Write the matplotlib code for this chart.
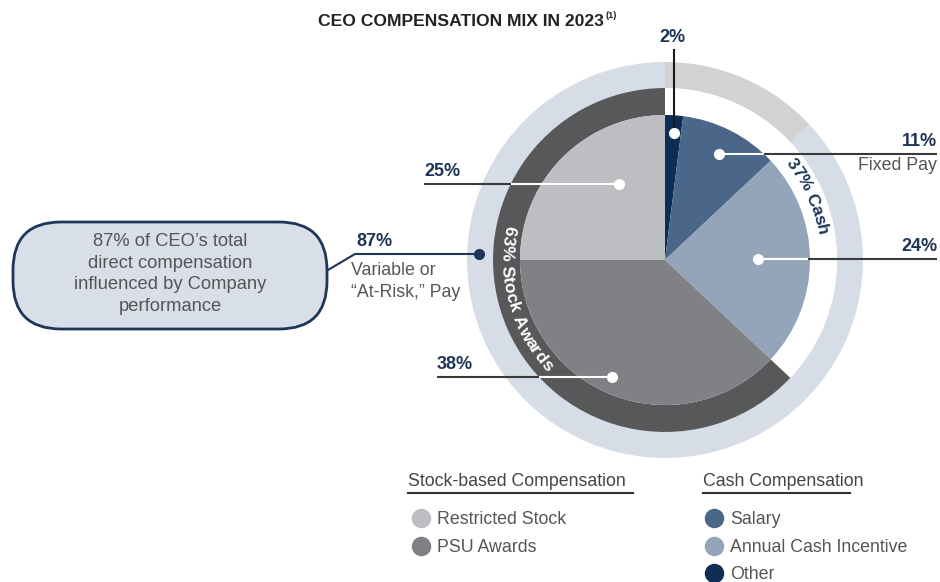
import numpy as np
from matplotlib import pyplot as plt
from matplotlib.patches import FancyBboxPatch
from matplotlib.font_manager import FontProperties
from matplotlib.textpath import TextToPath

# data (clockwise from 12 o'clock)
slice_names = ["Other", "Salary", "Annual Cash Incentive", "PSU Awards", "Restricted Stock"]
slice_values = [2, 11, 24, 38, 25]
slice_labels = ["2%", "11%", "24%", "38%", "25%"]
stock_names = ["Restricted Stock", "PSU Awards"]
cash_names = ["Salary", "Annual Cash Incentive", "Other"]

colors = {
    "Other": "#0e2d55",
    "Salary": "#4a6789",
    "Annual Cash Incentive": "#95a5b9",
    "PSU Awards": "#808185",
    "Restricted Stock": "#bdbec2",
}
NAVY = "#1d3557"
GRAY_TXT = "#555555"
DARK_RING = "#58585a"
OUTER_VAR = "#d6dde6"
OUTER_FIX = "#d2d2d4"

W, H = 940, 582
BOLD = ["Liberation Sans", "DejaVu Sans"]
SANS = ["Liberation Sans", "DejaVu Sans"]
FS = 12.8


def Y(y):
    return H - y


cash_total = sum(slice_values[:3])
stock_total = sum(slice_values[3:])
fixed_total = sum(slice_values[:2])
var_total = sum(slice_values[2:])

fig = plt.figure(figsize=(W / 100, H / 100), dpi=100)
ax = fig.add_axes([0, 0, 1, 1])

cx, cy = 665, Y(260)
R_PIE, R_RING, R_OUT = 145, 172, 198

# outer ring: variable vs fixed
ax.pie([var_total, fixed_total], colors=[OUTER_VAR, OUTER_FIX], startangle=90,
       counterclock=True, radius=R_OUT, center=(cx, cy),
       wedgeprops=dict(width=R_OUT - R_RING, linewidth=0))
# middle ring: stock vs cash
ax.pie([stock_total, cash_total], colors=[DARK_RING, "white"], startangle=90,
       counterclock=True, radius=R_RING, center=(cx, cy),
       wedgeprops=dict(width=R_RING - R_PIE, linewidth=0))
# main pie
ax.pie(slice_values, colors=[colors[n] for n in slice_names], startangle=90,
       counterclock=False, radius=R_PIE, center=(cx, cy),
       wedgeprops=dict(linewidth=0))

ax.set_xlim(0, W)
ax.set_ylim(0, H)
ax.set_aspect("equal")
ax.axis("off")


# curved ring text
def arc_text(s, r, mid_deg, direction, size, color):
    prop = FontProperties(family=BOLD, weight="bold", size=size)
    ttp = TextToPath()
    widths = [ttp.get_text_width_height_descent(ch, prop, ismath=False)[0] * 100 / 72
              for ch in s]
    total = sum(widths)
    pos = 0
    for ch, w in zip(s, widths):
        offset = pos + w / 2 - total / 2
        ang = mid_deg + direction * np.degrees(offset / r)
        rot = ang + 90 if direction > 0 else ang - 90
        x = cx + r * np.cos(np.radians(ang))
        y = cy + r * np.sin(np.radians(ang))
        ax.text(x, y, ch, fontproperties=prop, color=color, ha="center", va="center",
                rotation=rot, rotation_mode="anchor")
        pos += w


arc_text(f"{stock_total}% Stock Awards", 158.5, 195.5, 1, 12.5, "white")
arc_text(f"{cash_total}% Cash", 159, 24, -1, 12.5, NAVY)

# slice leader lines: (dot angle, dot radius, light radius, label end x)
leaders = {
    "Salary": (63, 119, R_PIE, 937),
    "Annual Cash Incentive": (0.5, 93, R_PIE - 2, 937),
    "PSU Awards": (245.6, 128, R_RING, 437),
    "Restricted Stock": (121, 89, R_RING, 424),
}
for name, lab in zip(slice_names, slice_labels):
    if name == "Other":
        continue
    ang, rd, rl, xe = leaders[name]
    dx = cx + rd * np.cos(np.radians(ang))
    dy = cy + rd * np.sin(np.radians(ang))
    hy = dy
    yoff = cy - hy
    xl = np.sqrt(rl ** 2 - yoff ** 2)
    xl = cx + xl if xe > cx else cx - xl
    ax.plot([dx, xl], [hy, hy], color="white", lw=1.5, solid_capstyle="butt", zorder=3)
    ax.plot([xl, xe], [hy, hy], color="#3a3a3a", lw=1.5, solid_capstyle="butt", zorder=3)
    ax.plot(dx, dy, "o", color="white", ms=7, zorder=4)
    ha = "right" if xe > cx else "left"
    ax.text(xe, hy + 4, lab, fontsize=13, fontweight="bold", family=BOLD,
            color=NAVY, ha=ha, va="bottom")
    if name == "Salary":
        ax.text(xe, hy - 3, "Fixed Pay", fontsize=FS, family=SANS,
                color=GRAY_TXT, ha="right", va="top")

# "Other" leader goes straight up
ox = cx + 127 * np.cos(np.radians(86))
oy = cy + 127 * np.sin(np.radians(86))
ax.plot([ox, ox], [oy, Y(50)], color="#1a1a1a", lw=1.5, zorder=3)
ax.plot(ox, oy, "o", color="white", ms=7, zorder=4)
ax.text(ox - 1, Y(46), slice_labels[0], fontsize=13, fontweight="bold", family=BOLD,
        color=NAVY, ha="center", va="bottom")

# 87% variable pay callout
vx, vy = 479, Y(254)
ax.plot([vx, 355, 328], [vy, vy, Y(270)], color=NAVY, lw=1.5, zorder=3)
ax.plot(vx, vy, "o", color=NAVY, ms=7, zorder=4)
ax.text(356, vy + 4, f"{var_total}%", fontsize=13, fontweight="bold", family=BOLD,
        color=NAVY, ha="left", va="bottom")
ax.text(351, Y(262), "Variable or\n\u201cAt-Risk,\u201d Pay", fontsize=FS, family=SANS,
        color=GRAY_TXT, ha="left", va="top", linespacing=1.35)

box = FancyBboxPatch((13, Y(329)), 314, 107, boxstyle="round,pad=0,rounding_size=48",
                     facecolor="#d8dfe8", edgecolor="#1f3656", lw=2)
ax.add_patch(box)
ax.text(170, Y(274), f"{var_total}% of CEO\u2019s total\ndirect compensation\n"
        "influenced by Company\nperformance", fontsize=13.2, family=SANS,
        color=GRAY_TXT, ha="center", va="center", linespacing=1.38)

# title
title = ax.text(318, Y(21), "CEO COMPENSATION MIX IN 2023", fontsize=12.6, fontweight="bold",
                family=BOLD, color="#222222", ha="left", va="center")
fig.canvas.draw()
tb = title.get_window_extent().transformed(ax.transData.inverted())
ax.text(tb.x1 + 2, Y(15), "(1)", fontsize=6.5, fontweight="bold", family=BOLD,
        color="#222222", ha="left", va="center")

# legend
ax.text(408, Y(481), "Stock-based Compensation", fontsize=FS, family=SANS,
        color="#444444", ha="left", va="center")
ax.plot([408, 633], [Y(493), Y(493)], color="#333333", lw=1.5)
ax.text(703, Y(481), "Cash Compensation", fontsize=FS, family=SANS,
        color="#444444", ha="left", va="center")
ax.plot([703, 850], [Y(493), Y(493)], color="#333333", lw=1.5)
for i, name in enumerate(stock_names):
    yy = Y(518 + 28 * i)
    ax.plot(421, yy, "o", color=colors[name], ms=13)
    ax.text(437, yy - 1.5, name, fontsize=FS, family=SANS, color=GRAY_TXT,
            ha="left", va="center")
for i, name in enumerate(cash_names):
    yy = Y(518 + 27.5 * i)
    ax.plot(714, yy, "o", color=colors[name], ms=13)
    ax.text(730, yy - 1.5, name, fontsize=FS, family=SANS, color=GRAY_TXT,
            ha="left", va="center")

fig.savefig("out.png", dpi=100)
